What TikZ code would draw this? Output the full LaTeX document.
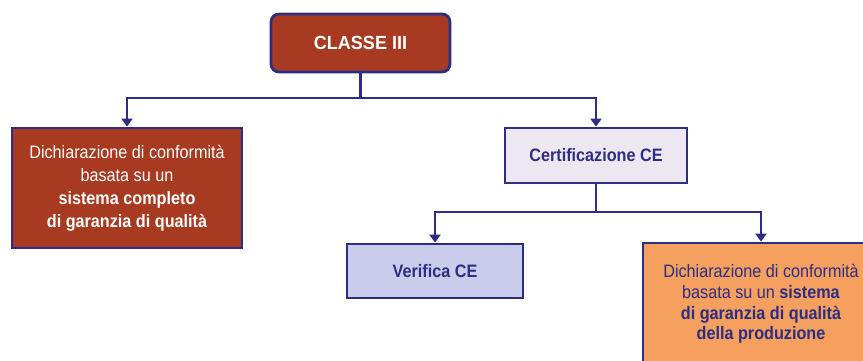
\documentclass[tikz,border=0pt]{standalone}
\usepackage{fontspec}
\setmainfont{Liberation Sans}[FakeStretch=0.9]
\newfontfamily\titlefont{Liberation Sans}[FakeStretch=0.95]
\usetikzlibrary{arrows.meta}
\definecolor{navy}{HTML}{2D2E83}
\definecolor{brick}{HTML}{A83A22}
\definecolor{lav}{HTML}{EDE7F1}
\definecolor{peri}{HTML}{C9CCEA}
\definecolor{orng}{HTML}{F5A05E}
\tikzset{
  boxbase/.style={draw=navy, line width=2.8pt, inner sep=0pt, align=center},
  conn/.style={draw=navy, line width=2.8pt},
  arr/.style={conn, -{Triangle[width=11pt,length=8pt]}},
}
\begin{document}
\begin{tikzpicture}[x=1pt,y=-1pt]
\useasboundingbox (0,0) rectangle (863,361);
\clip (0,0) rectangle (863,361);
\node[boxbase, fill=brick, rounded corners=8pt, minimum width=179pt, minimum height=58pt,
      text=white, font=\titlefont\fontsize{19}{22}\selectfont\bfseries] (classe) at (360.5,43) {CLASSE III};
\node[boxbase, fill=brick, minimum width=230pt, minimum height=120pt, text=white,
      font=\fontsize{18}{23}\selectfont] (left) at (127,188)
      {Dichiarazione di conformità\\basata su un\\\textbf{sistema completo}\\\textbf{di garanzia di qualità}};
\node[boxbase, fill=lav, minimum width=182pt, minimum height=55pt, text=navy,
      font=\fontsize{18}{22}\selectfont\bfseries] (cert) at (596,155.5) {Certificazione CE};
\node[boxbase, fill=peri, minimum width=176pt, minimum height=54pt, text=navy,
      font=\fontsize{18}{22}\selectfont\bfseries] (verif) at (435,271) {Verifica CE};
\node[boxbase, fill=orng, minimum width=236pt, minimum height=122pt, text=navy,
      font=\fontsize{18}{20.7}\selectfont] (right) at (761,304)
      {Dichiarazione di conformità\\basata su un \textbf{sistema}\\\textbf{di garanzia di qualità}\\\textbf{della produzione}};
\coordinate (j1) at (360.5,98);
\coordinate (j2) at (596,212);
\draw[conn] (classe.south) -- (j1);
\draw[arr] (j1) -| (left.north);
\draw[arr] (j1) -| (cert.north);
\draw[conn] (cert.south) -- (j2);
\draw[arr] (j2) -| (verif.north);
\draw[arr] (j2) -| (right.north);
\end{tikzpicture}
\end{document}
